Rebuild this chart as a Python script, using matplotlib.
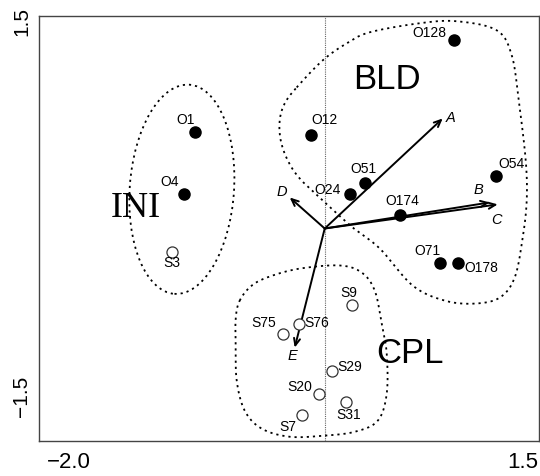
import numpy as np
import matplotlib.pyplot as plt
from matplotlib.patches import Ellipse

plt.rcParams["font.family"] = ["Liberation Sans", "DejaVu Sans"]

# --------------------------------------------
# Site scores (axis 1, axis 2)
# --------------------------------------------

filled_names = ["O1", "O4", "O12", "O24", "O51", "O174", "O128", "O54", "O71", "O178"]
filled_x = [-0.908, -0.985, -0.096, 0.177, 0.282, 0.527, 0.905, 1.199, 0.807, 0.933]
filled_y = [0.680, 0.242, 0.659, 0.242, 0.320, 0.094, 1.330, 0.369, -0.246, -0.246]

open_names = ["S3", "S9", "S75", "S76", "S29", "S20", "S31", "S7"]
open_x = [-1.069, 0.191, -0.292, -0.180, 0.051, -0.040, 0.149, -0.159]
open_y = [-0.168, -0.542, -0.747, -0.677, -1.009, -1.171, -1.228, -1.313]

# label offsets in points (dx, dy)
filled_offsets = [(-7, 9), (-10, 9), (10, 11), (-16, 3), (-1, 10),
                  (2, 10), (-18, 5), (11, 9), (-9, 9), (17, -3)]
open_offsets = [(0, -8), (-2, 9), (-14, 8), (13, 1), (13, 3),
                (-14, 5), (2, -9), (-10, -9)]

# --------------------------------------------
# Variable vectors
# --------------------------------------------

vec_names = ["A", "B", "C", "D", "E"]
vec_x = [0.826, 1.155, 1.211, -0.245, -0.210]
vec_y = [0.777, 0.184, 0.170, 0.219, -0.841]
vec_label_x = [0.880, 1.078, 1.204, -0.301, -0.224]
vec_label_y = [0.777, 0.269, 0.057, 0.261, -0.898]

# --------------------------------------------
# Group outlines
# --------------------------------------------

bld_x = [-0.196, -0.014, 0.154, 0.315, 0.665, 0.924, 1.204, 1.309, 1.358, 1.407,
         1.414, 1.386, 1.330, 1.225, 1.050, 0.840, 0.616, 0.385, 0.196, -0.014,
         -0.175, -0.259, -0.308, -0.315, -0.280]
bld_y = [0.996, 1.187, 1.307, 1.385, 1.449, 1.463, 1.399, 1.223, 0.905, 0.481,
         0.198, -0.064, -0.346, -0.488, -0.530, -0.509, -0.403, -0.141, 0.007, 0.198,
         0.353, 0.481, 0.622, 0.763, 0.883]

cpl_x = [-0.595, -0.511, -0.385, -0.175, 0.105, 0.259, 0.350, 0.399, 0.434, 0.434,
         0.371, 0.210, -0.014, -0.245, -0.441, -0.560, -0.616, -0.623, -0.623]
cpl_y = [-0.509, -0.403, -0.339, -0.283, -0.261, -0.311, -0.438, -0.671, -0.883, -1.166,
         -1.357, -1.435, -1.463, -1.470, -1.413, -1.286, -1.074, -0.827, -0.636]

ini_center = (-1.0, 0.277)
ini_size = (0.73, 1.48)

group_names = ["BLD", "CPL", "INI"]
group_x = [0.435, 0.595, -1.32]
group_y = [1.050, -0.885, 0.140]


def closed_spline(xs, ys, n=20):
    # Catmull-Rom through the outline vertices, wrapped around
    p = np.column_stack([xs, ys])
    m = len(p)
    out = []
    for i in range(m):
        p0, p1, p2, p3 = p[i - 1], p[i], p[(i + 1) % m], p[(i + 2) % m]
        t = np.linspace(0, 1, n, endpoint=False)[:, None]
        seg = 0.5 * ((2 * p1) + (-p0 + p2) * t
                     + (2 * p0 - 5 * p1 + 4 * p2 - p3) * t ** 2
                     + (-p0 + 3 * p1 - 3 * p2 + p3) * t ** 3)
        out.append(seg)
    out = np.vstack(out + [out[0][:1]])
    return out[:, 0], out[:, 1]


fig = plt.figure(figsize=(5.4, 4.76), dpi=100)
ax = fig.add_axes([39 / 540, 35 / 476, 500 / 540, 425 / 476])

ax.set_xlim(-2.0, 1.5)
ax.set_ylim(-1.5, 1.5)
ax.set_xticks([])
ax.set_yticks([])
for s in ax.spines.values():
    s.set_color("#444444")
    s.set_linewidth(1.0)

ax.axvline(0, color="#666666", linestyle=(0, (1, 1)), linewidth=0.8, zorder=1)

dot_style = dict(color="black", linestyle=(0, (1.2, 2.2)), linewidth=1.3)

sx, sy = closed_spline(bld_x, bld_y)
ax.plot(sx, sy, **dot_style)
sx, sy = closed_spline(cpl_x, cpl_y)
ax.plot(sx, sy, **dot_style)
ax.add_patch(Ellipse(ini_center, ini_size[0], ini_size[1], angle=-4,
                     fill=False, edgecolor="black", linestyle=(0, (1.2, 2.2)),
                     linewidth=1.3))

# vectors
for name, x, y, lx, ly in zip(vec_names, vec_x, vec_y, vec_label_x, vec_label_y):
    ax.annotate("", xy=(x, y), xytext=(0, 0),
                arrowprops=dict(arrowstyle="->,head_length=0.5,head_width=0.22",
                                color="black", lw=1.4, shrinkA=0, shrinkB=0))
    ax.text(lx, ly, name, fontsize=10.5, style="italic", ha="center", va="center")

# sites
ax.plot(filled_x, filled_y, "o", color="black", markersize=8, zorder=4)
ax.plot(open_x, open_y, "o", markerfacecolor="white", markeredgecolor="#333333",
        markeredgewidth=0.9, markersize=8, zorder=4)

for name, x, y, off in zip(filled_names, filled_x, filled_y, filled_offsets):
    ax.annotate(name, (x, y), xytext=off, textcoords="offset points",
                fontsize=10, ha="center", va="center", zorder=5)
for name, x, y, off in zip(open_names, open_x, open_y, open_offsets):
    ax.annotate(name, (x, y), xytext=off, textcoords="offset points",
                fontsize=10, ha="center", va="center", zorder=5)

# group names
ax.text(group_x[0], group_y[0], group_names[0], fontsize=25, ha="center", va="center")
ax.text(group_x[1], group_y[1], group_names[1], fontsize=25, ha="center", va="center")
ax.text(group_x[2], group_y[2], group_names[2], fontsize=26, ha="center", va="center",
        family="Liberation Serif")

# axis end labels
fig.text(22 / 540, 1 - 22 / 476, "1.5", fontsize=15, rotation=90, ha="center", va="center")
fig.text(22 / 540, 1 - 396 / 476, "\u22121.5", fontsize=15, rotation=90, ha="center", va="center")
fig.text(69 / 540, 1 - 462 / 476, "\u22122.0", fontsize=16, ha="center", va="center")
fig.text(538 / 540, 1 - 462 / 476, "1.5", fontsize=16, ha="right", va="center")

plt.savefig("out.png", dpi=100)
